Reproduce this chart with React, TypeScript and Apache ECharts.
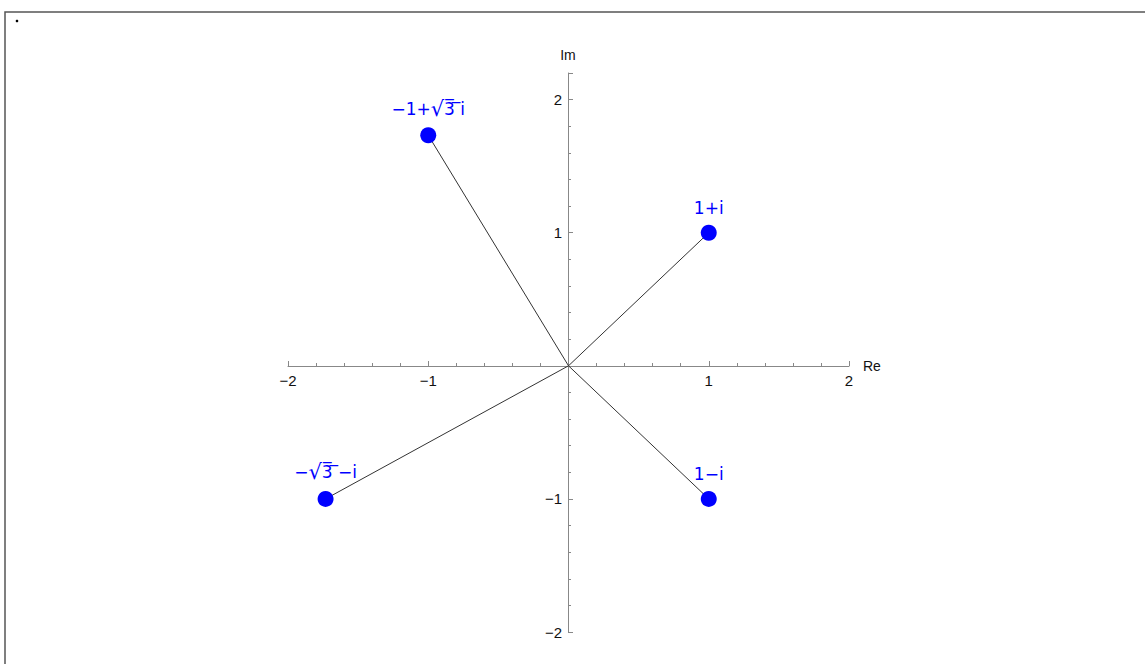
import React, { useEffect, useRef } from "react";
import * as echarts from "echarts";

const pointNames = ["1+i", "1−i", "−1+√3 i", "−√3 −i"];
const pointRich = [
  "{t|1+i}",
  "{t|1−i}",
  "{t|−1+}{s|√}{t|3̅ ̅i}",
  "{t|−}{s|√}{t|3̅ ̅−i}",
];
const pointRe = [1, 1, -1, -1.7320508];
const pointIm = [1, -1, 1.7320508, -1];
const axisMin = -2;
const axisMax = 2;
const yAxisMax = 2.2;

const fmt = (v: number) => {
  if (Math.abs(v) < 1e-9) return "";
  if (Math.abs(v - Math.round(v)) > 1e-9) return "";
  const r = Math.round(v);
  return r < 0 ? "−" + Math.abs(r) : String(r);
};

export default function App() {
  const ref = useRef<HTMLDivElement>(null);
  useEffect(() => {
    if (!ref.current) return;
    const chart = echarts.init(ref.current, undefined, { renderer: "svg" });
    const font = "Liberation Sans, Arial, sans-serif";
    const axisCommon = {
      type: "value" as const,
      interval: 1,
      splitLine: { show: false },
      axisLine: { onZero: false, lineStyle: { color: "#888", width: 1 } },
      axisTick: { show: true, inside: true, length: 5, lineStyle: { color: "#888" } },
      minorTick: { show: true, splitNumber: 5, length: 3, lineStyle: { color: "#888" } },
      axisLabel: { formatter: fmt, color: "#111", fontSize: 15, fontFamily: font },
      nameTextStyle: { color: "#111", fontSize: 14, fontFamily: font },
    };
    const spokes = pointRe.map((x, i) => ({
      type: "line" as const,
      data: [
        [0, 0],
        [x, pointIm[i]],
      ],
      symbol: "none",
      lineStyle: { color: "#333", width: 1 },
      silent: true,
      z: 1,
    }));
    chart.setOption({
      animation: false,
      backgroundColor: "#fff",
      grid: { left: 288, right: 296, top: 73, bottom: 32, containLabel: false },
      xAxis: {
        ...axisCommon,
        min: axisMin,
        max: axisMax,
        position: "bottom",
        offset: -266,
        name: "Re",
        nameLocation: "end",
        nameGap: 14,
        axisLabel: { ...axisCommon.axisLabel, margin: 7 },
      },
      yAxis: {
        ...axisCommon,
        min: axisMin,
        max: yAxisMax,
        position: "left",
        offset: -280,
        name: "Im",
        nameLocation: "end",
        nameGap: 11,
        axisLabel: { ...axisCommon.axisLabel, margin: 6 },
      },
      graphic: [
        {
          type: "rect",
          shape: { x: 5, y: 12, width: 1300, height: 800 },
          style: { fill: "none", stroke: "#555", lineWidth: 1.5 },
          silent: true,
        },
        {
          type: "circle",
          shape: { cx: 17, cy: 21, r: 1.3 },
          style: { fill: "#000" },
          silent: true,
        },
      ],
      series: [
        ...spokes,
        {
          type: "scatter",
          data: pointRe.map((x, i) => ({ value: [x, pointIm[i]], name: pointNames[i] })),
          symbol: "circle",
          symbolSize: 16,
          itemStyle: { color: "#0000ff", opacity: 1 },
          label: {
            show: true,
            position: "top",
            distance: 8,
            formatter: (p: any) => pointRich[p.dataIndex],
            color: "#0000ff",
            rich: {
              t: { color: "#0000ff", fontSize: 17, fontFamily: "DejaVu Sans, sans-serif" },
              s: { color: "#0000ff", fontSize: 21, fontFamily: "DejaVu Sans, sans-serif" },
            },
          },
          z: 3,
        },
      ],
    });
    return () => chart.dispose();
  }, []);
  return (
    <div
      ref={ref}
      style={{ position: "absolute", left: 0, top: 0, width: 1145, height: 664 }}
    />
  );
}
